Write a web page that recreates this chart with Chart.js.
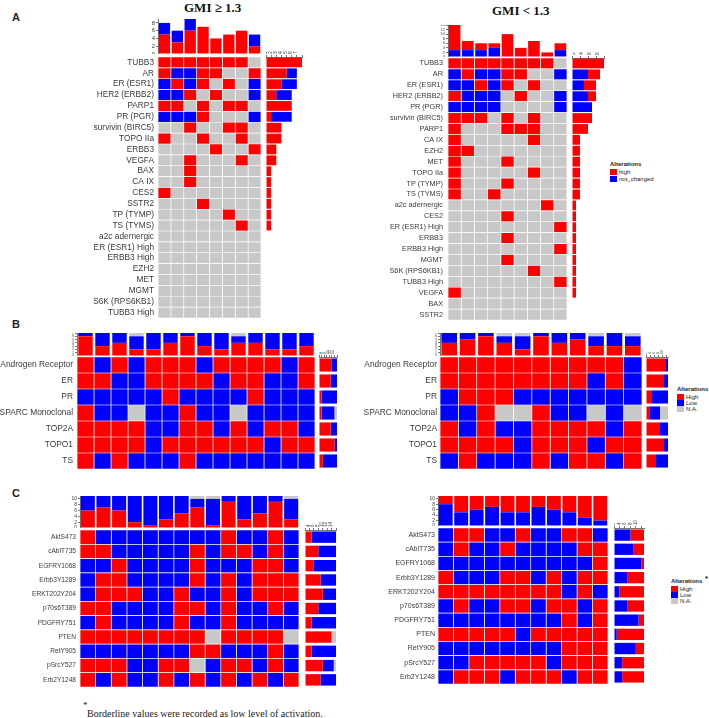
<!DOCTYPE html>
<html><head><meta charset="utf-8">
<script src="https://cdn.jsdelivr.net/npm/chart.js@4.4.1/dist/chart.umd.min.js"></script>
<style>
html,body{margin:0;padding:0;background:#fff;}
body{width:709px;height:718px;position:relative;overflow:hidden;font-family:"Liberation Sans",Arial,sans-serif;}
canvas{position:absolute;}
.t{position:absolute;white-space:nowrap;line-height:1;color:#222;}
.sw{position:absolute;width:7px;height:6px;}
</style></head><body>

<div class="t" style="left:12px;top:11px;font:bold 11px 'Liberation Sans',Arial;">A</div>
<div class="t" style="left:12px;top:318px;font:bold 11px 'Liberation Sans',Arial;">B</div>
<div class="t" style="left:12px;top:487px;font:bold 11px 'Liberation Sans',Arial;">C</div>
<div class="t" id="t1" style="left:184px;top:0px;font:bold 13px 'Liberation Serif','Times New Roman',serif;color:#111;">GMI ≥ 1.3</div>
<div class="t" id="t2" style="left:492px;top:3px;font:bold 13px 'Liberation Serif','Times New Roman',serif;color:#111;">GMI &lt; 1.3</div>

<!-- legend A -->
<div class="t" style="left:610px;top:161px;font:bold 6px 'Liberation Sans',Arial;">Alterations</div>
<div class="sw" style="left:610px;top:169px;background:#FF0000"></div>
<div class="sw" style="left:610px;top:176px;background:#0000FF"></div>
<div class="t" style="left:619px;top:169px;font:6px 'Liberation Sans',Arial;">high</div>
<div class="t" style="left:619px;top:176px;font:6px 'Liberation Sans',Arial;">not_changed</div>
<!-- legend B -->
<div class="t" style="left:677px;top:386px;font:bold 6px 'Liberation Sans',Arial;">Alterations</div>
<div class="sw" style="left:677px;top:394px;background:#FF0000"></div>
<div class="sw" style="left:677px;top:400px;background:#0000FF"></div>
<div class="sw" style="left:677px;top:406px;background:#C8C8C8"></div>
<div class="t" style="left:686px;top:394px;font:6px 'Liberation Sans',Arial;">High</div>
<div class="t" style="left:686px;top:400px;font:6px 'Liberation Sans',Arial;">Low</div>
<div class="t" style="left:686px;top:406px;font:6px 'Liberation Sans',Arial;">N.A.</div>
<!-- legend C -->
<div class="t" style="left:671px;top:578px;font:bold 6px 'Liberation Sans',Arial;">Alterations</div>
<div class="t" style="left:705px;top:574px;font:bold 8px 'Liberation Sans',Arial;">*</div>
<div class="sw" style="left:671px;top:586px;background:#FF0000"></div>
<div class="sw" style="left:671px;top:592px;background:#0000FF"></div>
<div class="sw" style="left:671px;top:598px;background:#C8C8C8"></div>
<div class="t" style="left:680px;top:586px;font:6px 'Liberation Sans',Arial;">High</div>
<div class="t" style="left:680px;top:592px;font:6px 'Liberation Sans',Arial;">Low</div>
<div class="t" style="left:680px;top:598px;font:6px 'Liberation Sans',Arial;">N.A.</div>

<div class="t" style="left:83px;top:700px;font:9px 'Liberation Serif',serif;">*</div>
<div class="t" style="left:87px;top:708px;font:10px 'Liberation Serif','Times New Roman',serif;">Borderline values were recorded as low level of activation.</div>

<script>
// ---------- DATA ----------
// cell codes: H = high (red), N = not_changed / low (blue), - = no alteration / N.A. (grey)
const aLeftGenes = ['TUBB3','AR','ER (ESR1)','HER2 (ERBB2)','PARP1','PR (PGR)','survivin (BIRC5)','TOPO IIa','ERBB3','VEGFA','BAX','CA IX','CES2','SSTR2','TP (TYMP)','TS (TYMS)','a2c adernergic','ER (ESR1) High','ERBB3 High','EZH2','MET','MGMT','S6K (RPS6KB1)','TUBB3 High'];
const aLeftCells = ['HHHHHHH-','HNNHH--H','NHNH-H-N','NNH-H--N','HH-H-HH-','NNNH---N','--H--HH-','H--H--H-','----H--H','--H---H-','--H-----','--H-----','H-------','---H----','-----H--','------H-','--------','--------','--------','--------','--------','--------','--------','--------'];

const aRightGenes = ['TUBB3','AR','ER (ESR1)','HER2 (ERBB2)','PR (PGR)','survivin (BIRC5)','PARP1','CA IX','EZH2','MET','TOPO IIa','TP (TYMP)','TS (TYMS)','a2c adernergic','CES2','ER (ESR1) High','ERBB3','ERBB3 High','MGMT','S6K (RPS6KB1)','TUBB3 High','VEGFA','BAX','SSTR2'];
const aRightCells = ['HHHHHHHH-','NHNNHH--N','NNHNH-H--','HNNN-H--N','NNNN----N','HHH-H-H--','H---HHH--','H-----H--','HH-------','H---H----','H-----H--','H---H----','H--H-----','-------H-','----H----','--------H','----H----','--------H','----H----','------H--','--------H','H--------','---------','---------'];

const bGenes = ['Androgen Receptor','ER','PR','SPARC Monoclonal','TOP2A','TOPO1','TS'];
const bLeftCells = ['HNHNHHHNHHHHNH','HHNNHHHHNHHNNH','NNNNNHNNNNHNNN','HNN-NNHNN-NNNN','HHHHNNHHNHNHHN','HHHHNHHHHHHNHH','HNHNNNHNNNNNNN'];
const bRightCells = ['HHHHHHHHHHN','HHHHHHHHNHN','NHHHNNNNNNN','NNH--HNN-N-','HNHNNHHHHNH','HHHHNHHHNHH','NHNNNHNHHNH'];

const cGenes = ['AktS473','cAblT735','EGFRY1068','Erbb3Y1289','ERKT202Y204','p70s6T389','PDGFRY751','PTEN','RetY905','pSrcY527','Erb2Y1248'];
const cLeftCells = ['HNNNNNNNNHNNHN','HHNNNNNHNHHNHN','NNHNNNNHNNNHHN','NHHNNNNHNHNHHH','NHHHNNHNNHNHHH','HHNNNNHHNHNNHN','NHNNNNHNNHNNNN','HHHHHHHH-HHHH-','NNNNNNNHHNNNHN','HHHNNHH-NHHNHN','HNHNNHNHNHNHNH'];
const cRightCells = ['NHHNNHNNHHN','NHNNHNNNNHH','NNNNNNNNNNH','HNNNHHNHNHH','HHHHHHHHNHN','NHNNHHNHHNH','NNNNNNNNHNH','HHHHHNHHHHH','NNNNNNNNHHH','NNHHHHHNHHH','NHHHNHHHNHH'];

const COL = {H:'#FF0000', N:'#0000FF', '-':'#C8C8C8'};

// ---------- helpers ----------
Chart.defaults.font.family = '"Liberation Sans", Arial, sans-serif';
const baseOpts = () => ({responsive:false, animation:false, devicePixelRatio:1,
  layout:{padding:0, autoPadding:false},
  plugins:{legend:{display:false}, tooltip:{enabled:false}}});
const noPad = s => { s.paddingLeft = 0; s.paddingRight = 0; s.paddingTop = 0; s.paddingBottom = 0; };

function place(x0, x1, y0, y1, left, top, right){
  right = right||0;
  const cv = document.createElement('canvas');
  const W = Math.round(x1 - x0 + left + right), H = Math.round(y1 - y0 + top);
  cv.width = W; cv.height = H;
  cv.style.left = (x0 - left) + 'px'; cv.style.top = (y0 - top) + 'px';
  cv.style.width = W + 'px'; cv.style.height = H + 'px';
  document.body.appendChild(cv);
  return cv;
}
const countCol = (rows, c, code) => rows.reduce((n, r) => n + (r[c] === code ? 1 : 0), 0);
const countRow = (row, code) => row.split('').filter(ch => ch === code).length;

function gridChart(b, labels, rows, font, gap){
  const n = rows[0].length;
  const cv = place(b.x0, b.x1, b.y0, b.y1, b.lab, 0);
  const datasets = [];
  for (let c = 0; c < n; c++){
    datasets.push({data: rows.map(() => [c, c + 1]),
      backgroundColor: rows.map(r => COL[r[c]]),
      borderColor:'#ffffff', borderWidth:0.7, borderSkipped:false,
      barPercentage:1, categoryPercentage:1, grouped:false});
  }
  const o = baseOpts();
  o.indexAxis = 'y';
  o.scales = {
    x:{type:'linear', min:0, max:n, display:false},
    y:{type:'category', grid:{display:false, drawTicks:false}, border:{display:false},
       ticks:{font:{size:font}, color:'#3a3a3a', padding:gap, autoSkip:false},
       afterFit(s){ s.width = b.lab; noPad(s); }}
  };
  new Chart(cv, {type:'bar', data:{labels, datasets}, options:o});
}

function topChart(b, rows, order, ymax, step, tickFont, leftW, pct){
  const n = rows[0].length;
  const labels = Array.from({length:n}, (_, i) => String(i + 1));
  const cv = place(b.x0, b.x1, b.y0, b.y1, leftW, 0);
  const datasets = order.map(code => ({data: labels.map((_, c) => countCol(rows, c, code)),
    backgroundColor: COL[code], borderWidth:0, barPercentage:pct, categoryPercentage:1}));
  const o = baseOpts();
  o.scales = {
    x:{stacked:true, display:false},
    y:{stacked:true, min:0, max:ymax,
       ticks:{stepSize:step, includeBounds:false, autoSkip:false, font:{size:tickFont}, color:'#444', padding:1},
       grid:{drawOnChartArea:false, tickLength:2, color:'#777'}, border:{display:true, color:'#777'},
       afterFit(s){ s.width = leftW; noPad(s); }}
  };
  new Chart(cv, {type:'bar', data:{labels, datasets}, options:o});
}

function sideChart(b, labels, rows, order, xmax, step, tickFont, topH, pct){
  const cv = place(b.x0, b.x1, b.y0, b.y1, 0, topH, 5);
  const datasets = order.map(code => ({data: rows.map(r => countRow(r, code)),
    backgroundColor: COL[code], borderWidth:0, barPercentage:pct, categoryPercentage:1}));
  const o = baseOpts();
  o.indexAxis = 'y';
  o.layout.padding = {right:5};
  o.scales = {
    x:{stacked:true, position:'top', min:0, max:xmax,
       ticks:{stepSize:step, includeBounds:false, autoSkip:false, minRotation:90, maxRotation:90, font:{size:tickFont}, color:'#444', padding:1},
       grid:{drawOnChartArea:false, tickLength:2, color:'#777'}, border:{display:true, color:'#777'},
       afterFit(s){ s.height = topH; noPad(s); }},
    y:{type:'category', stacked:true, display:false}
  };
  new Chart(cv, {type:'bar', data:{labels, datasets}, options:o});
}

// ---------- Panel A ----------
gridChart({x0:158, x1:261, y0:57, y1:318, lab:158}, aLeftGenes, aLeftCells, 8.3, 4);
topChart({x0:158, x1:261, y0:19, y1:54}, aLeftCells, ['H','N'], 9, 2, 6, 14, 0.88);
sideChart({x0:266, x1:302, y0:57, y1:318}, aLeftGenes, aLeftCells, ['H','N'], 7, 1, 5, 12, 0.9);

gridChart({x0:448, x1:567, y0:58, y1:320, lab:98}, aRightGenes, aRightCells, 7.3, 5);
topChart({x0:448, x1:567, y0:25, y1:57}, aRightCells, ['N','H'], 14, 2, 4, 14, 0.88);
sideChart({x0:572, x1:604, y0:58, y1:320}, aRightGenes, aRightCells, ['N','H'], 8, 2, 5, 12, 0.9);

// ---------- Panel B ----------
gridChart({x0:77, x1:315, y0:357, y1:469, lab:77}, bGenes, bLeftCells, 8.4, 4);
topChart({x0:77, x1:315, y0:333, y1:356}, bLeftCells, ['H','N','-'], 7, 1, 3.5, 8, 0.85);
sideChart({x0:319, x1:337, y0:357, y1:469}, bGenes, bLeftCells, ['H','N','-'], 14, 2, 3.5, 8, 0.82);

gridChart({x0:440, x1:642, y0:357, y1:469, lab:90}, bGenes, bRightCells, 8.4, 3);
topChart({x0:440, x1:642, y0:333, y1:356}, bRightCells, ['H','N','-'], 7, 1, 3.5, 8, 0.85);
sideChart({x0:646, x1:668, y0:357, y1:469}, bGenes, bRightCells, ['H','N','-'], 11, 2, 3.5, 8, 0.82);

// ---------- Panel C ----------
gridChart({x0:80, x1:299, y0:530, y1:687, lab:80}, cGenes, cLeftCells, 6.6, 4);
topChart({x0:80, x1:299, y0:496, y1:528}, cLeftCells, ['H','N','-'], 11, 2, 5, 10, 0.9);
sideChart({x0:305, x1:336, y0:530, y1:687}, cGenes, cLeftCells, ['H','N','-'], 14, 2, 4.5, 10, 0.8);

gridChart({x0:438, x1:608, y0:528, y1:684, lab:88}, cGenes, cRightCells, 7, 3);
topChart({x0:438, x1:608, y0:496, y1:526}, cRightCells, ['N','H'], 11, 2, 5, 10, 0.9);
sideChart({x0:614, x1:644, y0:528, y1:684}, cGenes, cRightCells, ['N','H','-'], 11, 2, 4.5, 10, 0.8);
</script>
</body></html>
